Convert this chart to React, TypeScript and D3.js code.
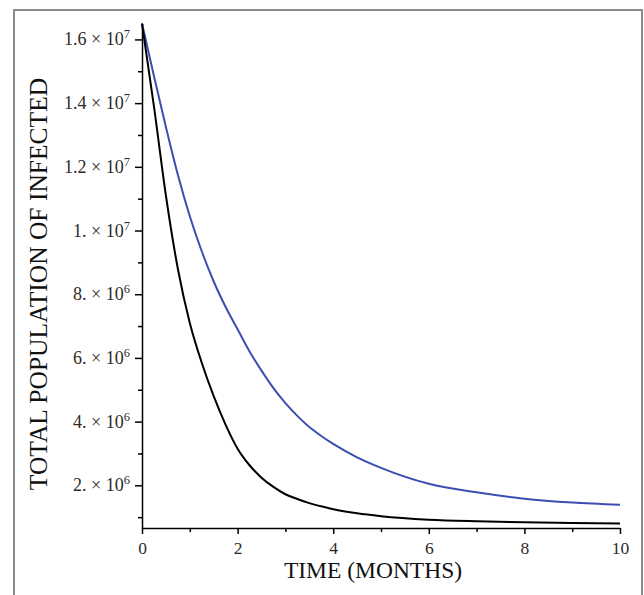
import React, { useRef, useEffect } from "react";
import * as d3 from "d3";

// time in months
const months = [0, 0.25, 0.5, 0.75, 1, 1.25, 1.5, 1.75, 2, 2.25, 2.5, 2.75, 3, 3.25, 3.5, 3.75, 4, 4.5, 5, 6, 7, 8, 9, 10];
// total infected, two scenarios
const infectedBlack = [16.5e6, 13.9e6, 11.1e6, 8.8e6, 7.1e6, 5.85e6, 4.8e6, 3.9e6, 3.15e6, 2.63e6, 2.24e6, 1.95e6, 1.72e6, 1.57e6, 1.44e6, 1.34e6, 1.25e6, 1.12e6, 1.03e6, 0.92e6, 0.87e6, 0.84e6, 0.82e6, 0.8e6];
const infectedBlue = [16.5e6, 14.85e6, 13.25e6, 11.75e6, 10.45e6, 9.35e6, 8.4e6, 7.6e6, 6.9e6, 6.2e6, 5.6e6, 5.05e6, 4.58e6, 4.18e6, 3.83e6, 3.55e6, 3.3e6, 2.88e6, 2.55e6, 2.05e6, 1.78e6, 1.58e6, 1.46e6, 1.39e6];

const yTickValues = [2e6, 4e6, 6e6, 8e6, 1e7, 1.2e7, 1.4e7, 1.6e7];
const yTickMantissa = ["2.", "4.", "6.", "8.", "1.", "1.2", "1.4", "1.6"];
const yTickExp = ["6", "6", "6", "6", "7", "7", "7", "7"];
const yMinorValues = [1e6, 3e6, 5e6, 7e6, 9e6, 1.1e7, 1.3e7, 1.5e7];
const xTickValues = [0, 2, 4, 6, 8, 10];
const xMinorValues = [1, 3, 5, 7, 9];

function App() {
    const svgRef = useRef(null);

    useEffect(() => {
        const svg = d3.select(svgRef.current);
        svg.selectAll("*").remove();
        const width = 644;
        const height = 595;
        const font = "'Liberation Serif', 'Times New Roman', serif";

        svg.attr("width", width).attr("height", height);

        // outer frame
        svg.append("rect")
            .attr("x", 14).attr("y", 10)
            .attr("width", 628).attr("height", 600)
            .attr("fill", "none")
            .attr("stroke", "#8a8a8a")
            .attr("stroke-width", 2);

        const x = d3.scaleLinear().domain([0, 10]).range([142, 620]);
        const y = d3.scaleLinear().domain([0.66e6, 1.65e7]).range([528, 23.5]);

        // y axis
        const yAxis = svg.append("g").attr("transform", `translate(${x(0)},0)`);
        yAxis.call(d3.axisLeft(y).tickValues(yTickValues).tickSize(7).tickSizeOuter(0).tickFormat(() => ""));
        yAxis.selectAll("line, path").attr("stroke", "#000").attr("stroke-width", 1.5);
        const yMinor = svg.append("g").attr("transform", `translate(${x(0)},0)`);
        yMinor.call(d3.axisLeft(y).tickValues(yMinorValues).tickSize(4).tickSizeOuter(0).tickFormat(() => ""));
        yMinor.select("path").remove();
        yMinor.selectAll("line").attr("stroke", "#000").attr("stroke-width", 1.5);

        yTickValues.forEach((v, i) => {
            const t = svg.append("text")
                .attr("x", 130)
                .attr("y", y(v) + 6)
                .attr("text-anchor", "end")
                .attr("font-family", font)
                .attr("font-size", 18)
                .attr("fill", "#2e2a2a");
            t.append("tspan").text(`${yTickMantissa[i]} \u00d7 10`);
            t.append("tspan").attr("dy", -7).attr("font-size", 12.5).text(yTickExp[i]);
        });

        // x axis
        const xAxis = svg.append("g").attr("transform", `translate(0,${y(0.66e6)})`);
        xAxis.call(d3.axisBottom(x).tickValues(xTickValues).tickSize(6).tickSizeOuter(0).tickFormat(d3.format("d")));
        xAxis.selectAll("line, path").attr("stroke", "#000").attr("stroke-width", 1.5);
        xAxis.selectAll("text")
            .attr("font-family", font)
            .attr("font-size", 17.5)
            .attr("fill", "#2e2a2a")
            .attr("dy", "0.95em");
        const xMinor = svg.append("g").attr("transform", `translate(0,${y(0.66e6)})`);
        xMinor.call(d3.axisBottom(x).tickValues(xMinorValues).tickSize(4).tickSizeOuter(0).tickFormat(() => ""));
        xMinor.select("path").remove();
        xMinor.selectAll("line").attr("stroke", "#000").attr("stroke-width", 1.5);

        const line = d3.line()
            .x((d) => x(d[0]))
            .y((d) => y(d[1]))
            .curve(d3.curveMonotoneX);

        svg.append("path")
            .attr("d", line(months.map((m, i) => [m, infectedBlue[i]])))
            .attr("fill", "none")
            .attr("stroke", "#3b4fb2")
            .attr("stroke-width", 2);

        svg.append("path")
            .attr("d", line(months.map((m, i) => [m, infectedBlack[i]])))
            .attr("fill", "none")
            .attr("stroke", "#000")
            .attr("stroke-width", 2);

        svg.append("text")
            .attr("x", 373)
            .attr("y", 578)
            .attr("text-anchor", "middle")
            .attr("font-family", font)
            .attr("font-size", 23.5)
            .attr("fill", "#111")
            .text("TIME (MONTHS)");

        svg.append("text")
            .attr("transform", "translate(47,284) rotate(-90)")
            .attr("text-anchor", "middle")
            .attr("font-family", font)
            .attr("font-size", 25.5)
            .attr("fill", "#111")
            .text("TOTAL POPULATION OF INFECTED");
    }, []);

    return (
        <svg ref={svgRef} style={{ position: "absolute", left: 0, top: 0 }}></svg>
    );
}

export default App;
